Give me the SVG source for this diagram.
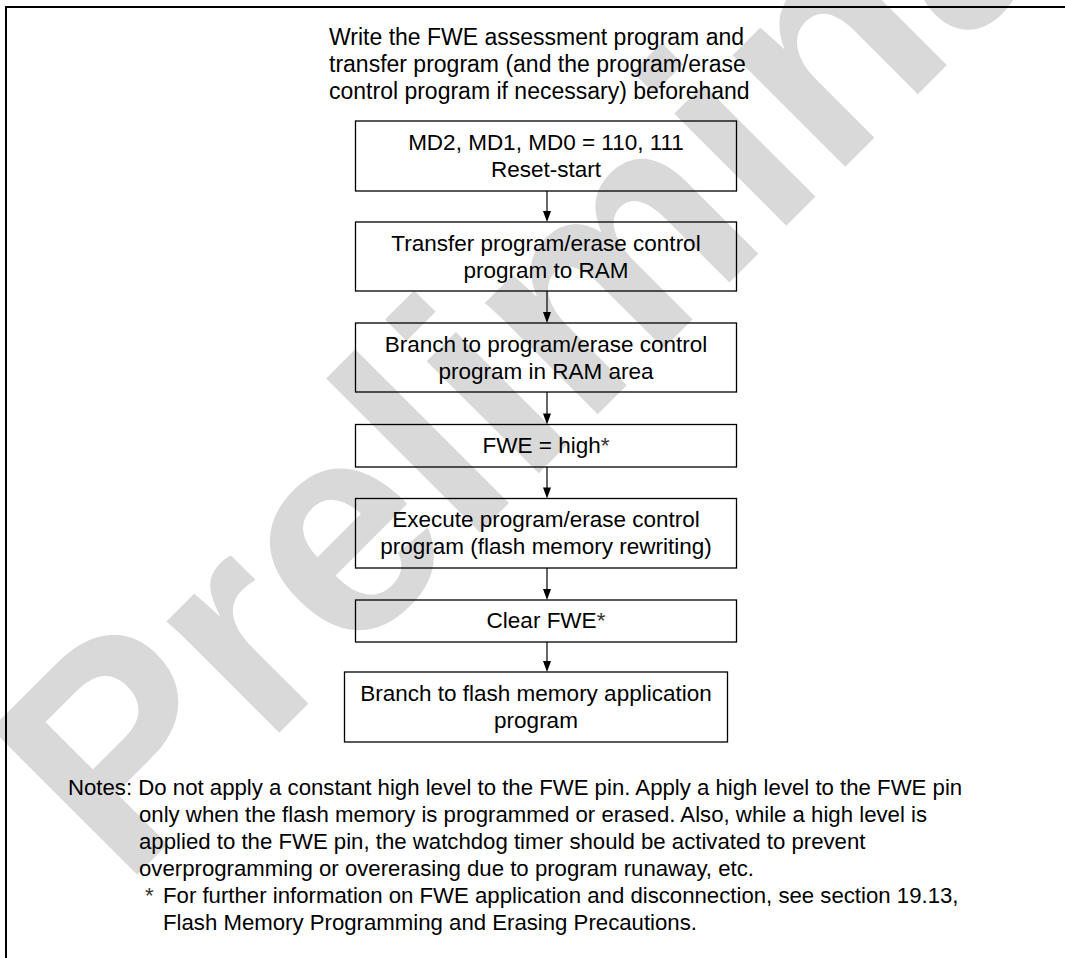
<svg xmlns="http://www.w3.org/2000/svg" width="1065" height="958" viewBox="0 0 1065 958">
<defs>
<style>
.t{font-family:"Liberation Sans",Arial,sans-serif;font-size:22.5px;fill:#000}
.h{font-size:23px}
.n{font-size:22.2px}
.c{text-anchor:middle}
.box{fill:none;stroke:#000;stroke-width:1.3}
.wm{font-family:"Liberation Sans",Arial,sans-serif;font-weight:bold;font-size:300px;fill:#d9d9d9}
.ast{fill:#333}
</style>
</defs>
<rect width="1065" height="958" fill="#fff"/>
<text class="wm" transform="translate(123,889) rotate(-45)">Preliminary</text>
<g id="frame" fill="none" stroke="#000" stroke-width="2">
<path d="M6,958 V7 H1065"/>
</g>
<g id="header">
<text class="t h" x="329" y="45">Write the FWE assessment program and</text>
<text class="t h" x="329" y="72">transfer program (and the program/erase</text>
<text class="t h" x="329" y="99">control program if necessary) beforehand</text>
</g>
<g id="connectors" stroke="#000" stroke-width="1.2">
<line x1="547" y1="191" x2="547" y2="212"/>
<line x1="547" y1="291" x2="547" y2="313"/>
<line x1="547" y1="392" x2="547" y2="414"/>
<line x1="547" y1="467" x2="547" y2="488"/>
<line x1="547" y1="568" x2="547" y2="590"/>
<line x1="547" y1="642" x2="547" y2="662"/>
</g>
<g id="arrowheads" fill="#000">
<path d="M543,211 L551,211 L547,222 Z"/>
<path d="M543,312 L551,312 L547,323 Z"/>
<path d="M543,413.5 L551,413.5 L547,424.5 Z"/>
<path d="M543,487.5 L551,487.5 L547,498.5 Z"/>
<path d="M543,589 L551,589 L547,600 Z"/>
<path d="M543,661 L551,661 L547,672 Z"/>
</g>
<g id="n1"><rect class="box" x="355.5" y="121" width="381" height="70"/>
<text class="t c" x="546" y="150">MD2, MD1, MD0 = 110, 111</text>
<text class="t c" x="546" y="177">Reset-start</text></g>
<g id="n2"><rect class="box" x="355.5" y="222" width="381" height="69"/>
<text class="t c" x="546" y="251">Transfer program/erase control</text>
<text class="t c" x="546" y="278">program to RAM</text></g>
<g id="n3"><rect class="box" x="355.5" y="323" width="381" height="69"/>
<text class="t c" x="546" y="352">Branch to program/erase control</text>
<text class="t c" x="546" y="379">program in RAM area</text></g>
<g id="n4"><rect class="box" x="355.5" y="424.5" width="381" height="42.5"/>
<text class="t c" x="546" y="453">FWE = high<tspan class="ast">*</tspan></text></g>
<g id="n5"><rect class="box" x="355.5" y="498.5" width="381" height="69.5"/>
<text class="t c" x="546" y="527">Execute program/erase control</text>
<text class="t c" x="546" y="554">program (flash memory rewriting)</text></g>
<g id="n6"><rect class="box" x="355.5" y="600" width="381" height="42"/>
<text class="t c" x="546" y="628">Clear FWE<tspan class="ast">*</tspan></text></g>
<g id="n7"><rect class="box" x="344.5" y="672" width="383" height="70"/>
<text class="t c" x="536" y="701">Branch to flash memory application</text>
<text class="t c" x="536" y="728">program</text></g>
<g id="notes">
<text class="t n" x="68" y="795">Notes: Do not apply a constant high level to the FWE pin. Apply a high level to the FWE pin</text>
<text class="t n" x="139" y="822">only when the flash memory is programmed or erased. Also, while a high level is</text>
<text class="t n" x="139" y="849">applied to the FWE pin, the watchdog timer should be activated to prevent</text>
<text class="t n" x="139" y="876">overprogramming or overerasing due to program runaway, etc.</text>
<text class="t n ast" x="145" y="903">*</text>
<text class="t n" x="163" y="903">For further information on FWE application and disconnection, see section 19.13,</text>
<text class="t n" x="163" y="930">Flash Memory Programming and Erasing Precautions.</text>
</g>
</svg>
